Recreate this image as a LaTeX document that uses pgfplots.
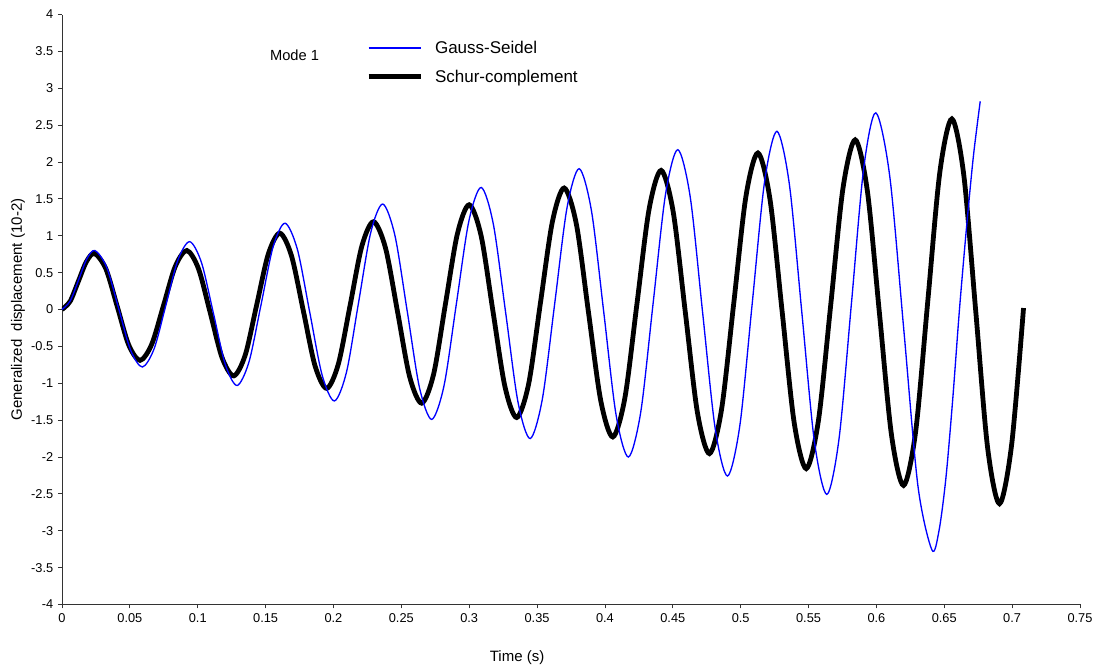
\documentclass[border=0pt]{standalone}
\usepackage{pgfplots}
\pgfplotsset{compat=1.18}
\usepackage{fontspec}
\setmainfont{Liberation Sans}
\begin{document}
\begin{tikzpicture}
\useasboundingbox (-46.5pt,-46.875pt) rectangle (777.75pt,453.375pt);
\begin{axis}[
  at={(0pt,0pt)}, anchor=south west, scale only axis,
  width=763.5pt, height=442.5pt,
  xmin=0, xmax=0.75, ymin=-4, ymax=4,
  axis lines=left, axis line style={-, black!80, line width=0.7pt},
  xtick={0,0.05,0.1,0.15,0.2,0.25,0.3,0.35,0.4,0.45,0.5,0.55,0.6,0.65,0.7,0.75},
  ytick={-4,-3.5,-3,-2.5,-2,-1.5,-1,-0.5,0,0.5,1,1.5,2,2.5,3,3.5,4},
  scaled ticks=false,
  tick align=outside, major tick length=3pt,
  tick style={black!80, line width=0.6pt},
  /pgf/number format/assume math mode=true,
  /pgf/number format/fixed,
  /pgf/number format/precision=2,
  ticklabel style={font=\fontsize{9.6}{11}\selectfont},
  xlabel={Time (s)},
  ylabel={Generalized\ \ displacement (10-2)},
  xlabel style={at={(axis description cs:0.447,-0.0907)}, anchor=center, font=\fontsize{11.25}{13}\selectfont},
  ylabel style={at={(axis description cs:-0.0432,0.5)}, anchor=center, font=\fontsize{11.25}{13}\selectfont},
  legend style={draw=none, fill=none, at={(axis description cs:0.2986,0.9605)}, anchor=north west,
    font=\fontsize{12.75}{15}\selectfont, inner sep=0pt, column sep=7pt, row sep=7pt},
  legend cell align=left,
  legend image code/.code={\draw[#1] (0pt,0pt) -- (39pt,0pt);},
]
\addplot[black, line width=3.6pt, smooth, forget plot] coordinates {
(0,0)
(0.006,0.111)(0.012,0.38)(0.018,0.649)(0.024,0.76)
(0.0324,0.548)(0.0408,0.035)(0.0491,-0.478)(0.0575,-0.69)
(0.0661,-0.472)(0.0748,0.055)(0.0834,0.582)(0.092,0.80)
(0.1006,0.551)(0.1093,-0.05)(0.1179,-0.651)(0.1265,-0.90)
(0.135,-0.617)(0.1435,0.068)(0.152,0.752)(0.1605,1.035)
(0.1691,0.727)(0.1778,-0.018)(0.1864,-0.762)(0.195,-1.07)
(0.2036,-0.739)(0.2123,0.06)(0.2209,0.859)(0.2295,1.19)
(0.2384,0.830)(0.2473,-0.04)(0.2561,-0.910)(0.265,-1.27)
(0.2738,-0.876)(0.2825,0.075)(0.2913,1.026)(0.300,1.42)
(0.3088,0.998)(0.3175,-0.023)(0.3263,-1.043)(0.335,-1.465)
(0.3438,-1.009)(0.3525,0.091)(0.3613,1.191)(0.370,1.647)
(0.3790,1.153)(0.3879,-0.041)(0.3969,-1.234)(0.4058,-1.728)
(0.4147,-1.199)(0.4236,0.079)(0.4325,1.357)(0.4414,1.886)
(0.4503,1.324)(0.4592,-0.034)(0.4681,-1.392)(0.477,-1.954)
(0.4859,-1.357)(0.4949,0.084)(0.5038,1.525)(0.5127,2.122)
(0.5216,1.495)(0.5305,-0.018)(0.5394,-1.531)(0.5483,-2.158)
(0.5573,-1.505)(0.5664,0.071)(0.5754,1.647)(0.5844,2.30)
(0.5933,1.614)(0.6022,-0.043)(0.6111,-1.699)(0.620,-2.385)
(0.6289,-1.657)(0.6378,0.100)(0.6467,1.856)(0.6556,2.584)
(0.6644,1.820)(0.6732,-0.025)(0.6819,-1.869)(0.6907,-2.633)
(0.6996,-1.838)(0.7084,0.02)
};
\addplot[blue, line width=1pt, smooth] coordinates {
(0,0)
(0.0061,0.117)(0.0122,0.4)(0.0182,0.683)(0.0243,0.80)
(0.0330,0.569)(0.0418,0.01)(0.0505,-0.549)(0.0592,-0.78)
(0.0679,-0.531)(0.0767,0.07)(0.0854,0.671)(0.0941,0.92)
(0.1028,0.634)(0.1116,-0.055)(0.1203,-0.744)(0.129,-1.03)
(0.1378,-0.708)(0.1467,0.07)(0.1555,0.848)(0.1643,1.17)
(0.1734,0.817)(0.1825,-0.035)(0.1916,-0.887)(0.2007,-1.24)
(0.2096,-0.849)(0.2185,0.095)(0.2274,1.039)(0.2363,1.43)
(0.2453,1.002)(0.2544,-0.03)(0.2634,-1.062)(0.2724,-1.49)
(0.2815,-1.029)(0.2906,0.083)(0.2997,1.194)(0.3088,1.655)
(0.3178,1.156)(0.3269,-0.048)(0.3359,-1.251)(0.3449,-1.75)
(0.3539,-1.214)(0.3630,0.080)(0.3720,1.373)(0.381,1.909)
(0.3901,1.336)(0.3992,-0.046)(0.4082,-1.428)(0.4173,-2.0)
(0.4264,-1.390)(0.4355,0.084)(0.4446,1.557)(0.4537,2.167)
(0.4629,1.519)(0.4720,-0.046)(0.4812,-1.610)(0.4903,-2.258)
(0.4994,-1.573)(0.5085,0.079)(0.5176,1.731)(0.5267,2.416)
(0.5359,1.695)(0.5451,-0.046)(0.5543,-1.786)(0.5635,-2.507)
(0.5725,-1.749)(0.5816,0.080)(0.5906,1.908)(0.5996,2.666)
(0.6099,1.798)(0.6203,-0.297)(0.6306,-2.392)(0.6409,-3.26)
(0.6460,-3.012)(0.6511,-2.305)(0.6561,-1.248)(0.6612,0)
(0.6663,1.092)(0.6714,2.068)(0.6765,2.823)
};
\addlegendentry{Gauss-Seidel}
\addlegendimage{black, line width=3.6pt}
\addlegendentry{Schur-complement}
\node[font=\fontsize{11}{13}\selectfont] at (axis description cs:0.2284,0.9314) {Mode 1};
\end{axis}
\end{tikzpicture}
\end{document}
